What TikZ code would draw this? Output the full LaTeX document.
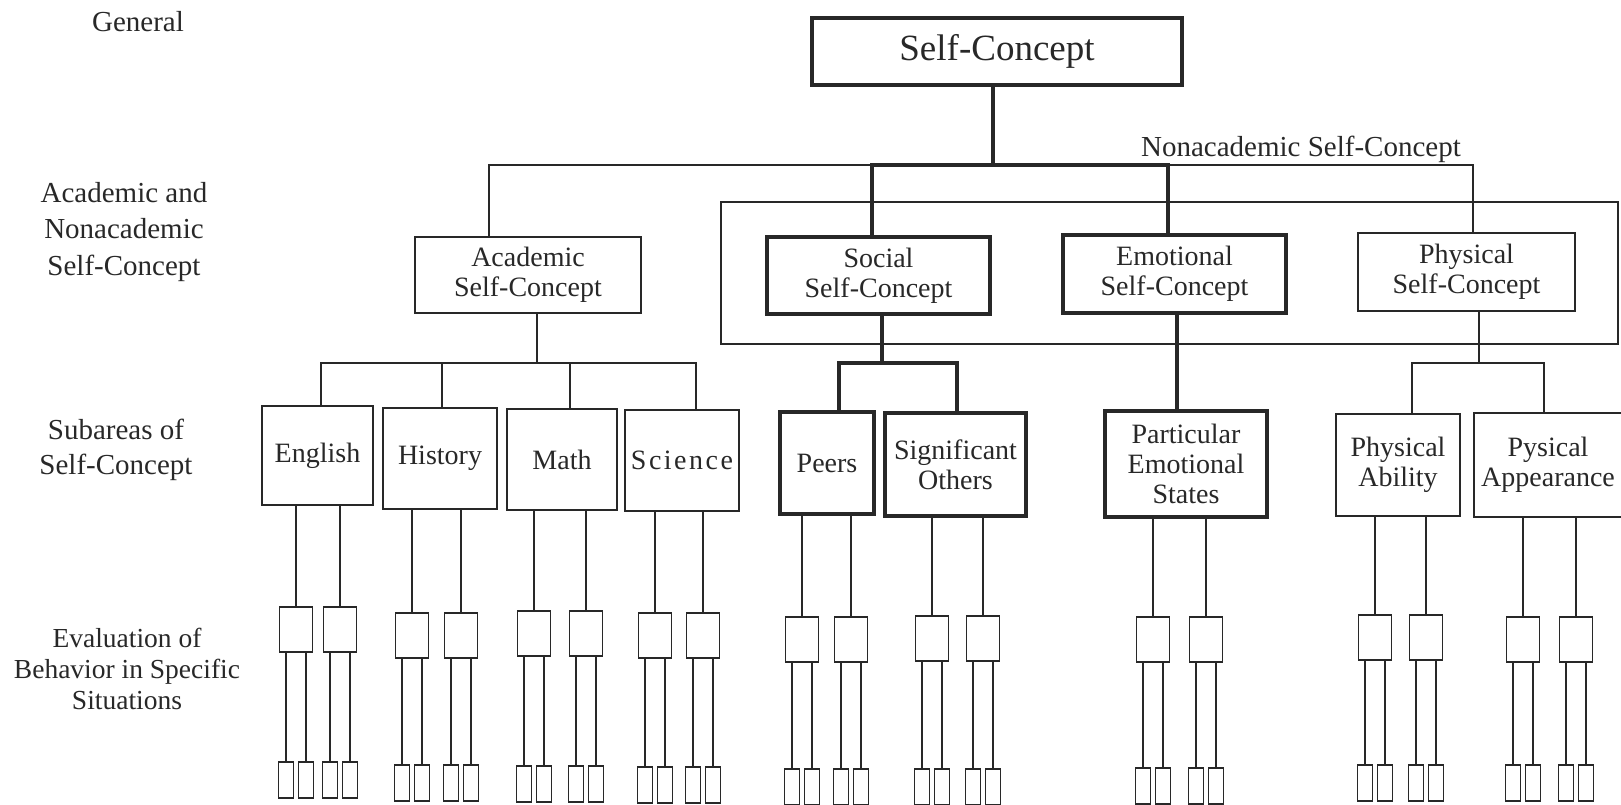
\documentclass[tikz,border=0pt]{standalone}
\usepackage{fontspec}
\setmainfont{Liberation Serif}
\definecolor{ink}{RGB}{40,40,40}
\newcommand\boxfont{\fontsize{28}{30}\selectfont}
\newcommand\topfont{\fontsize{37}{40}\selectfont}
\newcommand\lblfont{\fontsize{29}{36.5}\selectfont}
\newcommand\subfont{\fontsize{29}{35}\selectfont}
\newcommand\evfont{\fontsize{27.5}{31}\selectfont}
\newcommand\mkbox[7]{\node[#6, minimum width={#4-#2}, minimum height={#5-#3}] (#1) at ({(#2+#4)/2},{(#3+#5)/2}) {#7};}
\begin{document}
\begin{tikzpicture}[x=1pt,y=-1pt,
  thn/.style={draw=ink, line width=1.7pt},
  thk/.style={draw=ink, line width=4pt},
  box/.style={thn, rectangle, inner sep=0pt, align=center, text=ink, font=\boxfont},
  tbox/.style={box, line width=4pt},
  lbl/.style={align=center, text=ink, font=\lblfont, inner sep=0pt}]
\useasboundingbox (0,0) rectangle (1621,805);
\fill[white] (0,0) rectangle (1621,805);

% level labels
\node[lbl] (gen) at (138,22) {General};
\node[lbl] (lv2) at (124,232) {Academic and\\Nonacademic\\Self-Concept};
\node[lbl, font=\subfont] (lv3) at (116,450) {Subareas of\\Self-Concept};
\node[lbl, font=\evfont] (lv4) at (127,669) {Evaluation of\\Behavior in Specific\\Situations};

% nonacademic frame
\mkbox{frame}{721}{202}{1618}{344}{box}{}
\node[lbl, anchor=base] (nonlbl) at (1301,157) {Nonacademic Self-Concept};

% top
\mkbox{top}{812}{18}{1182}{85}{tbox, line width=4.5pt, font=\topfont}{Self-Concept}

% second level
\mkbox{acad}{415}{237}{641}{313}{box}{Academic\\Self-Concept}
\mkbox{soc}{767}{237}{990}{314}{tbox}{Social\\Self-Concept}
\mkbox{emo}{1063}{235}{1286}{313}{tbox}{Emotional\\Self-Concept}
\mkbox{phys}{1358}{233}{1575}{311}{box}{Physical\\Self-Concept}

% subareas
\mkbox{eng}{262}{406}{373}{505}{box}{English}
\mkbox{hist}{383}{408}{497}{509}{box}{History}
\mkbox{math}{507}{409}{617}{510}{box}{Math}
\mkbox{sci}{625}{410}{739}{511}{box}{S\hspace{2.5pt}c\hspace{2.5pt}i\hspace{2.5pt}e\hspace{2.5pt}n\hspace{2.5pt}c\hspace{2.5pt}e}
\mkbox{peers}{780}{412}{874}{514}{tbox}{Peers}
\mkbox{sig}{885}{413}{1026}{516}{tbox}{Significant\\Others}
\mkbox{part}{1105}{411}{1267}{517}{tbox}{Particular\\Emotional\\States}
\mkbox{abil}{1336}{414}{1460}{516}{box}{Physical\\Ability}
\mkbox{app}{1475}{414}{1621}{516}{box, draw=none}{Pysical\\Appearance}
\draw[thn] (app.north east) -| (app.south west) -- (app.south east);

% top connectors
\draw[thk] ([xshift=-4]top.south) -- ++(0,78) coordinate (hub);
\draw[thn] ([xshift=-39]acad.north) |- ([xshift=-6.5]soc.north |- hub);
\draw[thn] ([xshift=6.5]phys.north) |- ([xshift=-6.5]emo.north |- hub);
\draw[thk] ([xshift=-6.5]soc.north) |- (hub) -| ([xshift=-6.5]emo.north);

% academic subtree
\draw[thn] ([xshift=9]acad.south) -- ++(0,49) coordinate (aj);
\draw[thn] ([xshift=3.5]eng.north) |- (aj) -| ([xshift=14]sci.north);
\draw[thn] ([xshift=2]hist.north) -- ([xshift=2]hist.north |- aj);
\draw[thn] ([xshift=8]math.north) -- ([xshift=8]math.north |- aj);

% social subtree
\draw[thk] ([xshift=3.5]soc.south) -- ++(0,47) coordinate (sj);
\draw[thk] ([xshift=12]peers.north) |- (sj) -| ([xshift=1.5]sig.north);

% emotional subtree
\draw[thk] ([xshift=2.5]emo.south) -- ([xshift=2.5]emo.south |- part.north);

% physical subtree
\draw[thn] ([xshift=12.5]phys.south) -- ++(0,51) coordinate (pj);
\draw[thn] ([xshift=14]abil.north) |- (pj) -| ([xshift=-4]app.north);

% evaluation boxes
\foreach \p/\ca/\cb/\mt/\st in {eng/296/340/607/762, hist/412/461/613/765, math/534/586/611/766, sci/655/703/613/767, peers/802/851/617/769, sig/932/983/616/769, part/1153/1206/617/768, abil/1375/1426/615/765, app/1523/1576/617/765}{
  \foreach \i/\cc in {1/\ca,2/\cb}{
    \node[box, minimum width=33, minimum height=45] (m-\p-\i) at (\cc,\mt+22.5) {};
    \draw[thn] (m-\p-\i.north |- \p.south) -- (m-\p-\i.north);
    \foreach \j/\dx in {a/-10,b/10}{
      \node[box, minimum width=15, minimum height=36] (s-\p-\i-\j) at ({\cc+(\dx)},{\st+18}) {};
      \draw[thn] (s-\p-\i-\j.north |- m-\p-\i.south) -- (s-\p-\i-\j.north);
    }
  }
}
\end{tikzpicture}
\end{document}
